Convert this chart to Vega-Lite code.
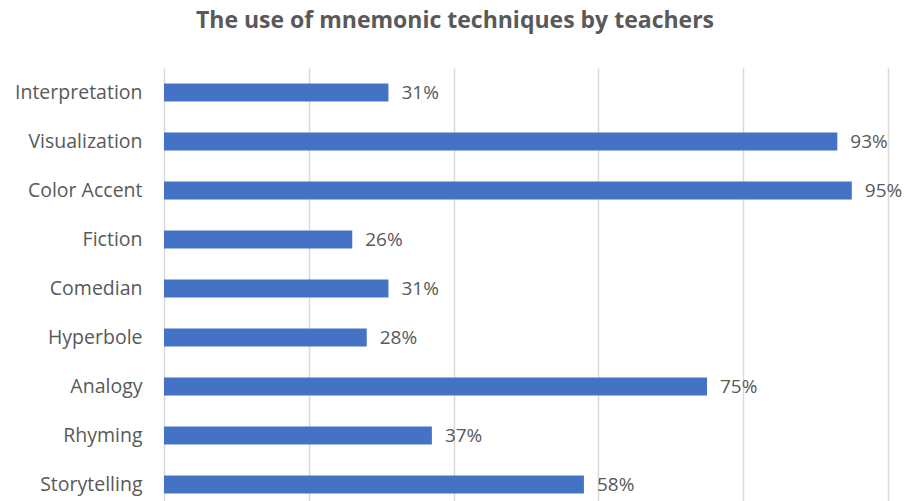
{
  "$schema": "https://vega.github.io/schema/vega-lite/v6.json",
  "autosize": {"type": "none"},
  "width": 724,
  "height": 441,
  "padding": {"left": 164, "top": 68, "right": 21, "bottom": 0},
  "background": "white",
  "title": {
    "text": "The use of mnemonic techniques by teachers",
    "anchor": "middle",
    "frame": "group",
    "dx": -71,
    "offset": 35,
    "fontSize": 23,
    "fontWeight": "bold",
    "color": "#595959",
    "font": "Open Sans"
  },
  "data": {
    "values": [
      {"technique": "Interpretation", "share": 0.31},
      {"technique": "Visualization", "share": 0.93},
      {"technique": "Color Accent", "share": 0.95},
      {"technique": "Fiction", "share": 0.26},
      {"technique": "Comedian", "share": 0.31},
      {"technique": "Hyperbole", "share": 0.28},
      {"technique": "Analogy", "share": 0.75},
      {"technique": "Rhyming", "share": 0.37},
      {"technique": "Storytelling", "share": 0.58}
    ]
  },
  "encoding": {
    "y": {
      "field": "technique",
      "type": "nominal",
      "sort": null,
      "title": null,
      "scale": {"paddingInner": 0.63, "paddingOuter": 0.315},
      "axis": {
        "domain": false,
        "ticks": false,
        "labelPadding": 22,
        "labelFontSize": 19.5,
        "labelFont": "Open Sans",
        "labelColor": "#595959"
      }
    },
    "x": {
      "field": "share",
      "type": "quantitative",
      "title": null,
      "scale": {"domain": [0, 1], "nice": false},
      "axis": {
        "values": [0, 0.2, 0.4, 0.6, 0.8, 1],
        "labels": false,
        "ticks": false,
        "domain": false,
        "grid": true,
        "gridColor": "#d9d9d9",
        "gridWidth": 1.5
      }
    }
  },
  "layer": [
    {"mark": {"type": "bar", "color": "#4472C4", "size": 18}},
    {
      "mark": {"type": "text", "align": "left", "dx": 13, "fontSize": 19, "font": "Open Sans", "color": "#595959"},
      "encoding": {"text": {"field": "share", "type": "quantitative", "format": ".0%"}}
    }
  ],
  "config": {"view": {"stroke": null}}
}
